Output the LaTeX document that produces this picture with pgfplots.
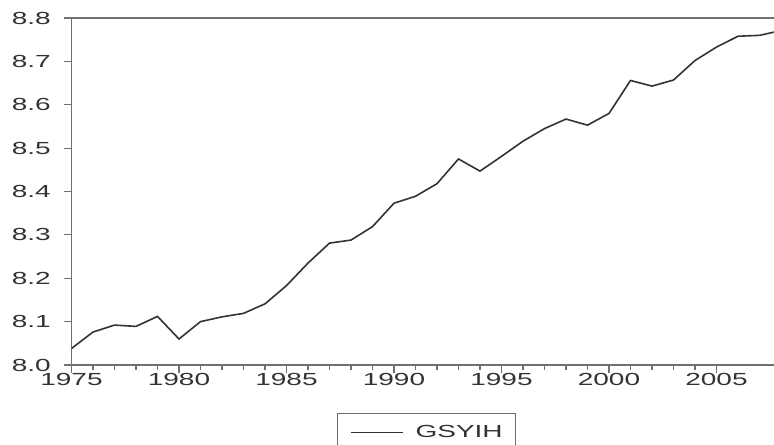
\documentclass[border=0pt]{standalone}
\usepackage{fontspec}
\setmainfont{Liberation Sans}[FakeStretch=1.6]
\usepackage{pgfplots}
\pgfplotsset{compat=1.18}
\definecolor{frame}{HTML}{707070}
\definecolor{ink}{HTML}{333333}
\begin{document}
\begin{tikzpicture}
\begin{axis}[
  at={(0,0)}, anchor=south west,
  scale only axis, width=709.5bp, height=347bp,
  xmin=1975, xmax=2008, ymin=8.0, ymax=8.8,
  xtick={1975,1980,1985,1990,1995,2000,2005},
  minor x tick num=4,
  ytick={8.0,8.1,8.2,8.3,8.4,8.5,8.6,8.7,8.8},
  tick pos=left, tick align=outside,
  major tick length=8bp, minor tick length=5bp,
  axis line style={draw=frame, line width=1.6bp},
  tick style={draw=frame, line width=1.2bp},
  /pgf/number format/assume math mode=true,
  tick label style={font=\fontsize{17.5bp}{21bp}\selectfont, text=ink, inner sep=0pt},
  xticklabel style={/pgf/number format/1000 sep={}, anchor=north, yshift=0bp},
  yticklabel style={/pgf/number format/.cd, fixed, fixed zerofill, precision=1, /tikz/.cd, anchor=east, xshift=-12.5bp},
  legend style={at={(0.374,-0.138)}, anchor=north west, draw=frame, line width=1.4bp,
    font=\fontsize{17.5bp}{21bp}\selectfont, text=ink,
    nodes={inner sep=0pt}, inner xsep=0pt, inner ysep=12bp},
  legend image code/.code={\path[draw=none] (0bp,0bp) -- (78bp,0bp);
    \draw[#1] (13bp,0bp) -- (65bp,0bp);},
]
\addplot[ink, line width=1.6bp] coordinates {
(1975,8.038) (1976,8.076) (1977,8.092) (1978,8.089) (1979,8.112)
(1980,8.060) (1981,8.100) (1982,8.111) (1983,8.119) (1984,8.141)
(1985,8.183) (1986,8.235) (1987,8.281) (1988,8.288) (1989,8.319)
(1990,8.373) (1991,8.389) (1992,8.418) (1993,8.475) (1994,8.447)
(1995,8.481) (1996,8.516) (1997,8.545) (1998,8.567) (1999,8.553)
(2000,8.580) (2001,8.656) (2002,8.643) (2003,8.657) (2004,8.702)
(2005,8.733) (2006,8.758) (2007,8.760) (2008,8.771)
};
\legend{GSYIH\kern13bp\null}
\end{axis}
\pgfresetboundingbox
\path[use as bounding box] (-71.5bp,-80bp) rectangle (702.5bp,365bp);
\end{tikzpicture}
\end{document}
